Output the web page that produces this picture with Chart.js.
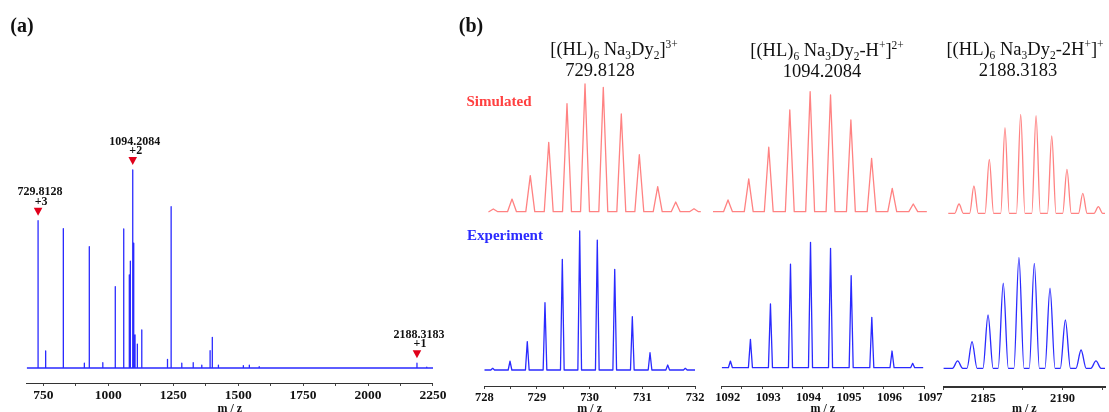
<!DOCTYPE html>
<html>
<head>
<meta charset="utf-8">
<script src="https://cdn.jsdelivr.net/npm/chart.js@4.4.1/dist/chart.umd.min.js"></script>
<style>
  body { margin: 0; background: #fff; }
  #fig { position: relative; width: 1109px; height: 412px; font-family: "Liberation Serif", "Times New Roman", serif; color: #111; }
  canvas { position: absolute; left: 0; top: 0; }
  .t { position: absolute; transform: translate(-50%, -50%); white-space: nowrap; line-height: 1; }
  .panel { font-weight: bold; font-size: 20px; }
  .tit { font-size: 18.5px; }
  .tit sub, .tit sup { font-size: 62%; line-height: 0; }
  .lbl { font-weight: bold; font-size: 15px; }
</style>
</head>
<body>
<div id="fig">
  <canvas id="cA" width="1109" height="412"></canvas>
  <canvas id="c1" width="1109" height="412"></canvas>
  <canvas id="c2" width="1109" height="412"></canvas>
  <canvas id="c3" width="1109" height="412"></canvas>

  <div class="t panel" style="left:22px; top:25px;">(a)</div>
  <div class="t panel" style="left:471px; top:25px;">(b)</div>

  <div class="t tit" style="left:614px; top:49px;">[(HL)<sub>6</sub> Na<sub>3</sub>Dy<sub>2</sub>]<sup>3+</sup></div>
  <div class="t tit" style="left:600px; top:70px;">729.8128</div>
  <div class="t tit" style="left:827px; top:50px;">[(HL)<sub>6</sub> Na<sub>3</sub>Dy<sub>2</sub>-H<sup>+</sup>]<sup>2+</sup></div>
  <div class="t tit" style="left:822px; top:71px;">1094.2084</div>
  <div class="t tit" style="left:1025px; top:49px;">[(HL)<sub>6</sub> Na<sub>3</sub>Dy<sub>2</sub>-2H<sup>+</sup>]<sup>+</sup></div>
  <div class="t tit" style="left:1018px; top:70px;">2188.3183</div>

  <div class="t lbl" style="left:499px; top:101px; color:#ff4040;">Simulated</div>
  <div class="t lbl" style="left:505px; top:235px; color:#2b2bff;">Experiment</div>
</div>

<script>
// (a) espectro completo: m/z e intensidade relativa (%)
const fullMz  = [729.8, 759, 827, 908, 927, 979, 1027, 1059.5, 1081, 1085, 1094.2, 1098, 1103, 1112, 1129,
                 1228, 1242, 1283, 1327, 1360, 1392, 1400.5, 1424, 1520, 1543, 1581, 2188.3, 2226];
const fullInt = [74.4, 8.6, 70.4, 2.4, 61.3, 2.7, 41.1, 70.2, 47, 54, 100, 63, 16.7, 12.1, 19.2,
                 4.4, 81.5, 2.4, 2.7, 1.5, 8.7, 15.5, 1.5, 1.2, 1.5, 0.7, 2.4, 0.4];
const fullRange = [686, 2250];
const fullTicks = [750, 1000, 1250, 1500, 1750, 2000, 2250];

// picos marcados
const markMz     = [729.8, 1094.2, 2188.3];
const markLabel  = ['729.8128', '1094.2084', '2188.3183'];
const markCharge = ['+3', '+2', '+1'];

// (b) padroes isotopicos - simulado (vermelho) e experimental (azul)
const sim1Mz  = [728.171, 728.526, 728.873, 729.223, 729.570, 729.912, 730.259, 730.601, 730.943, 731.292, 731.634, 731.981];
const sim1Int = [2.1, 9.9, 28.2, 54.3, 84.6, 100, 97.4, 76.5, 44.6, 19.6, 7.6, 2.3];
const exp1Mz  = [728.159, 728.488, 728.816, 729.152, 729.481, 729.811, 730.145, 730.476, 730.810, 731.146, 731.482, 731.816];
const exp1Int = [1.2, 6.3, 20.4, 48.4, 79.6, 100, 93.5, 72.4, 38.3, 12.4, 3.6, 1.2];

const sim2Mz  = [1092.156, 1092.668, 1093.163, 1093.683, 1094.186, 1094.69, 1095.193, 1095.705, 1096.215, 1096.735];
const sim2Int = [9.8, 27.3, 53.7, 84.8, 100, 97.3, 76.4, 44.5, 19.5, 6.4];
const exp2Mz  = [1092.215, 1092.71, 1093.205, 1093.70, 1094.195, 1094.69, 1095.20, 1095.71, 1096.21, 1096.72];
const exp2Int = [5.3, 22.6, 50.8, 82.5, 100, 95.2, 73.4, 40.2, 13.3, 3.5];

const sim3Mz  = [2183.47, 2184.41, 2185.38, 2186.37, 2187.36, 2188.33, 2189.32, 2190.28, 2191.28, 2192.26];
const sim3Int = [9.4, 27.6, 54.5, 86.5, 100, 98.6, 78.1, 44.4, 20.2, 6.7];
const exp3Mz  = [2183.38, 2184.29, 2185.30, 2186.26, 2187.25, 2188.22, 2189.21, 2190.18, 2191.17, 2192.11];
const exp3Int = [6.6, 24, 48, 76.6, 100, 94.6, 72.1, 43.5, 16.5, 6.6];

// extensao da linha de base de cada traco
const sim1Range = [728.09, 732.11],   exp1Range = [728, 732];
const sim2Range = [1091.785, 1097.07], exp2Range = [1092, 1096.98];
const sim3Range = [2182.79, 2192.68], exp3Range = [2182.47, 2192.68];

// rotulos dos eixos
const c1Ticks = [728, 729, 730, 731, 732];
const c2Ticks = [1092, 1093, 1094, 1095, 1096, 1097];
const c3Ticks = [2185, 2190];

const W = 1109, H = 412;
const SERIF = '"Liberation Serif", "Times New Roman", serif';
const BLUE = '#2a2aff', RED = '#ff8282';

// monta a linha: base -> pico -> base para cada pico
function trace(mz, ints, w, range) {
    const pts = [{x: range[0], y: 0}];
    for (let i = 0; i < mz.length; i++) {
        pts.push({x: mz[i] - w, y: 0}, {x: mz[i], y: ints[i]}, {x: mz[i] + w, y: 0});
    }
    pts.push({x: range[1], y: 0});
    return pts;
}

// faixa do eixo y para que 0 e 100 caiam nos pixels desejados
function yRange(top, bottom, p0, p100) {
    const k = (p0 - p100) / 100;
    return {min: -(bottom - p0) / k, max: (p0 - top) / k};
}

function xAxis(range, allTicks, labeled, opts) {
    return {
        type: 'linear', min: range[0], max: range[1],
        afterBuildTicks: s => { s.ticks = allTicks.map(v => ({value: v})); },
        afterFit: s => { s.height = opts.h; },
        ticks: {
            autoSkip: false, maxRotation: 0, padding: 1, color: '#111',
            labelOffset: opts.labelOffset || 0,
            font: {family: SERIF, weight: 'bold', size: opts.fs},
            callback: v => labeled.includes(v) ? String(v) : ''
        },
        grid: {drawOnChartArea: false, drawTicks: true, tickLength: 3, color: '#444'},
        border: {display: true, color: '#333', width: opts.bw || 1},
        title: {display: true, text: 'm / z', color: '#111', padding: {top: 0, bottom: -3},
                font: {family: SERIF, weight: 'bold', size: 12, lineHeight: 1}}
    };
}

function range(a, b, step) {
    const out = [];
    for (let v = a; v <= b + 1e-9; v += step) out.push(Math.round(v * 100) / 100);
    return out;
}

// triangulos e rotulos dos picos em (a)
const peakMarks = {
    id: 'peakMarks',
    afterDatasetsDraw(chart) {
        const {ctx, scales: {x, y}} = chart;
        ctx.save();
        markMz.forEach((m, i) => {
            const h = fullInt[fullMz.indexOf(m)];
            const px = x.getPixelForValue(m);
            const py = y.getPixelForValue(h) - 9;
            ctx.fillStyle = '#e0001a';
            ctx.beginPath();
            ctx.moveTo(px - 4.3, py - 4); ctx.lineTo(px + 4.3, py - 4); ctx.lineTo(px, py + 4);
            ctx.closePath(); ctx.fill();
            ctx.fillStyle = '#111';
            ctx.textAlign = 'center'; ctx.textBaseline = 'middle';
            ctx.font = 'bold 12px ' + SERIF;
            ctx.fillText(markCharge[i], px + 3, py - 10);
            ctx.fillText(markLabel[i], px + 2, py - 19.5);
        });
        ctx.restore();
    }
};

const base = {
    responsive: false, animation: false, devicePixelRatio: 1,
    plugins: {legend: {display: false}, tooltip: {enabled: false}},
    elements: {point: {radius: 0}, line: {tension: 0, borderJoinStyle: 'round'}}
};

// Grafico (a)
const aTop = 20, aBottom = 383, aLeft = 26.7, aRight = 433;
new Chart(document.getElementById('cA'), {
    type: 'scatter',
    data: {datasets: [{
        data: trace(fullMz, fullInt, 0, fullRange),
        showLine: true, borderColor: BLUE, borderWidth: 1.3
    }]},
    options: {
        ...base,
        layout: {padding: {left: aLeft, right: W - aRight, top: aTop, bottom: 0}},
        scales: {
            x: xAxis(fullRange, range(750, 2250, 125), fullTicks, {h: H - aBottom, fs: 13.5}),
            y: {display: false, ...yRange(aTop, aBottom, 368, 170)}
        }
    },
    plugins: [peakMarks]
});

// Graficos (b)
function isoChart(id, left, right, bottom, xr, allTicks, labeled, sim, exp, ys, yr, extra) {
    const smooth = extra.smooth ? 'monotone' : 'default';
    new Chart(document.getElementById(id), {
        type: 'scatter',
        data: {datasets: [
            {data: sim, showLine: true, borderColor: RED, borderWidth: 1.3, yAxisID: 'y2', clip: false,
             cubicInterpolationMode: smooth, tension: extra.smooth ? 0.4 : 0},
            {data: exp, showLine: true, borderColor: BLUE, borderWidth: 1.3, yAxisID: 'y',
             cubicInterpolationMode: smooth, tension: extra.smooth ? 0.4 : 0}
        ]},
        options: {
            ...base,
            layout: {padding: {left: left, right: W - right, top: 40, bottom: 0}},
            scales: {
                x: xAxis(xr, allTicks, labeled, Object.assign({h: H - bottom, fs: 12.5}, extra)),
                y: {display: false, ...yRange(40, bottom, ys[0], ys[1])},
                y2: {display: false, ...yRange(40, bottom, yr[0], yr[1])}
            }
        }
    });
}

isoChart('c1', 484.3, 695, 386, [728, 732], range(728, 732, 0.5), c1Ticks,
    trace(sim1Mz, sim1Int, 0.085, sim1Range), trace(exp1Mz, exp1Int, 0.035, exp1Range),
    [370, 231], [211.7, 84], {});

isoChart('c2', 721.7, 924, 386, [1092, 1097], range(1092, 1097, 0.5), c2Ticks,
    trace(sim2Mz, sim2Int, 0.11, sim2Range), trace(exp2Mz, exp2Int, 0.05, exp2Range),
    [367.7, 242.3], [211.7, 91.7], {labelOffset: 6});

isoChart('c3', 943.5, 1105, 387, [2182.49, 2192.68], [2182.5, 2185, 2187.5, 2190, 2192.5], c3Ticks,
    trace(sim3Mz, sim3Int, 0.27, sim3Range), trace(exp3Mz, exp3Int, 0.32, exp3Range),
    [368.3, 257.3], [213.3, 114.3], {bw: 2, smooth: true});
</script>
</body>
</html>
